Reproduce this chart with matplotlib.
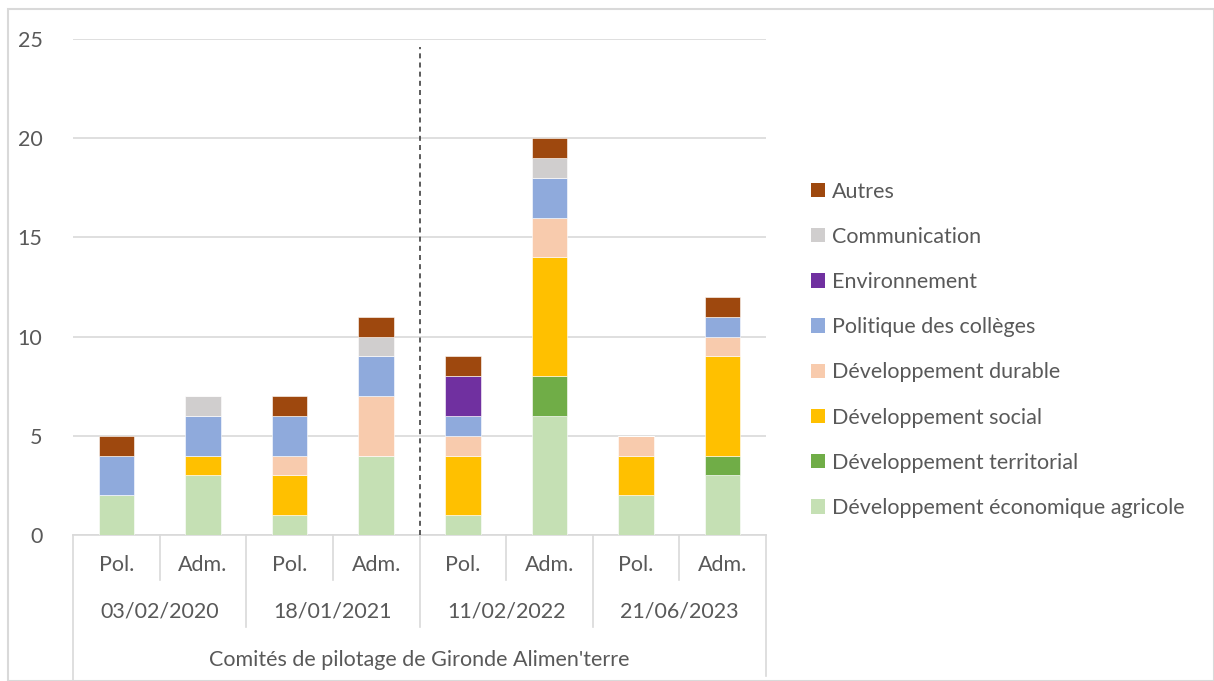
import numpy as np
import matplotlib
matplotlib.use("Agg")
import matplotlib.pyplot as plt
from matplotlib.patches import Rectangle, Patch
from matplotlib.lines import Line2D

plt.rcParams['font.family'] = ['Lato', 'DejaVu Sans']

#----------
# Données
bar_labels = ["Pol.", "Adm.", "Pol.", "Adm.", "Pol.", "Adm.", "Pol.", "Adm."]
dates = ["03/02/2020", "18/01/2021", "11/02/2022", "21/06/2023"]
group_title = "Comités de pilotage de Gironde Alimen'terre"

themes = ["Développement économique agricole", "Développement territorial",
          "Développement social", "Développement durable",
          "Politique des collèges", "Environnement", "Communication", "Autres"]

agricole    = [2, 3, 1, 4, 1, 6, 2, 3]
territorial = [0, 0, 0, 0, 0, 2, 0, 1]
social      = [0, 1, 2, 0, 3, 6, 2, 5]
durable     = [0, 0, 1, 3, 1, 2, 1, 1]
colleges    = [2, 2, 2, 2, 1, 2, 0, 1]
environ     = [0, 0, 0, 0, 2, 0, 0, 0]
communic    = [0, 1, 0, 1, 0, 1, 0, 0]
autres      = [1, 0, 1, 1, 1, 1, 0, 1]

colors = ["#C5E0B4", "#70AD47", "#FFC000", "#F8CBAD",
          "#8FAADC", "#7030A0", "#D0CECE", "#9E480E"]
#----------

series = [agricole, territorial, social, durable, colleges, environ, communic, autres]
txt_col = "#595959"
grid_col = "#D9D9D9"
fs = 15.5

W, H = 1214, 681
fig = plt.figure(figsize=(W / 100, H / 100), dpi=100)
ax = fig.add_axes([73 / W, 1 - 535 / H, (766 - 73) / W, (535 - 39) / H])

x = np.arange(len(bar_labels))
bottom = np.zeros(len(x))
for vals, col in zip(series, colors):
    ax.bar(x, vals, bottom=bottom, width=0.41, color=col, edgecolor="white",
           linewidth=0.4, zorder=3)
    bottom += np.array(vals)

ax.set_xlim(-0.5, len(x) - 0.5)
ax.set_ylim(0, 25)
ax.set_yticks([0, 5, 10, 15, 20, 25])
ax.yaxis.grid(True, color=grid_col, linewidth=1.2, zorder=0)
ax.set_xticks([])
for s in ["top", "right", "left"]:
    ax.spines[s].set_visible(False)
ax.spines["bottom"].set_color(grid_col)
ax.spines["bottom"].set_linewidth(1.2)
ax.tick_params(axis="y", length=0, pad=22, labelsize=fs, labelcolor=txt_col)

# séparation 2021 / 2022
ax.plot([3.5, 3.5], [0, 24.6], color="#404040", linestyle=(0, (3, 2.5)),
        linewidth=1.2, zorder=4)

# axe des catégories sur trois niveaux
trans = ax.get_xaxis_transform()
h = (535 - 39)
lvl1 = -(580 - 535) / h
lvl2 = -(627 - 535) / h
lvl3 = -(681 - 535) / h
for xv in [0.5, 2.5, 4.5, 6.5]:
    ax.add_line(Line2D([xv, xv], [0, lvl1], transform=trans, color=grid_col,
                       linewidth=1.2, clip_on=False))
for xv in [1.5, 3.5, 5.5]:
    ax.add_line(Line2D([xv, xv], [0, lvl2], transform=trans, color=grid_col,
                       linewidth=1.2, clip_on=False))
ax.add_line(Line2D([-0.5, -0.5], [0, lvl3], transform=trans, color=grid_col,
                   linewidth=1.2, clip_on=False))
ax.add_line(Line2D([7.5, 7.5], [0, -(676 - 535) / h], transform=trans,
                   color=grid_col, linewidth=1.2, clip_on=False))

for xi, lab in zip(x, bar_labels):
    ax.text(xi, -(565 - 535) / h, lab, transform=trans, ha="center",
            va="center", fontsize=fs, color=txt_col)
for i, d in enumerate(dates):
    ax.text(2 * i + 0.5, -(612 - 535) / h, d, transform=trans, ha="center",
            va="center", fontsize=fs, color=txt_col)
ax.text(3.5, -(660 - 535) / h, group_title, transform=trans, ha="center",
        va="center", fontsize=fs, color=txt_col)

# légende (ordre inversé, comme l'empilement)
handles = [Patch(facecolor=c, edgecolor="none") for c in colors][::-1]
leg = fig.legend(handles, themes[::-1], loc="upper left",
                 bbox_to_anchor=(802 / W, 1 - 173 / H), frameon=False,
                 fontsize=fs, handlelength=0.65, handleheight=0.65,
                 handletextpad=0.35, labelspacing=1.17, borderaxespad=0)
for t in leg.get_texts():
    t.set_color(txt_col)

# cadre du graphique
fig.patches.append(Rectangle((8 / W, 0), (W - 8) / W, 1 - 9 / H,
                             transform=fig.transFigure, fill=False,
                             edgecolor=grid_col, linewidth=1.5))

fig.savefig("out.png", dpi=100)
